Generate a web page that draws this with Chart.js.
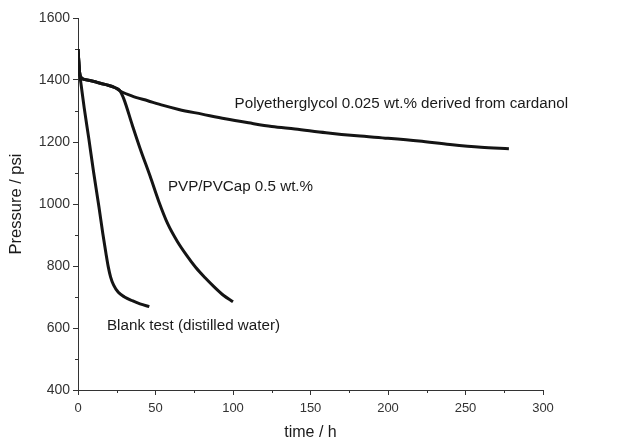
<!DOCTYPE html>
<html>
<head>
<meta charset="utf-8">
<script src="https://cdn.jsdelivr.net/npm/chart.js@4/dist/chart.umd.min.js"></script>
<style>
  html, body { margin: 0; padding: 0; background: #fff; }
  #wrap { width: 622px; height: 443px; }
</style>
</head>
<body>
<div id="wrap"><canvas id="pressureChart"></canvas></div>
<script>
// time (h) and pressure (psi)
const polyTime = [0, 0.5, 1, 2, 6, 12, 18, 24, 28, 35, 45, 55, 65, 80, 95, 110, 125, 140, 160, 180, 200, 220, 240, 260, 278];
const polyPressure = [1500, 1460, 1425, 1408, 1400, 1393, 1385, 1375, 1362, 1348, 1333, 1318, 1305, 1290, 1275, 1262, 1250, 1242, 1230, 1220, 1212, 1203, 1192, 1183, 1178];

const pvpTime = [0, 0.5, 1, 2, 6, 12, 18, 24, 27, 29.5, 35, 40, 46.5, 52, 58, 64, 70, 76, 82, 88, 94, 100];
const pvpPressure = [1500, 1460, 1425, 1408, 1400, 1393, 1385, 1375, 1366, 1340, 1255, 1180, 1090, 1010, 935, 880, 835, 795, 762, 732, 705, 685];

const blankTime = [0, 0.5, 1.2, 2, 4, 7, 10, 13.5, 16, 18, 19.5, 21, 23, 26, 30, 35, 40, 46];
const blankPressure = [1500, 1460, 1415, 1385, 1310, 1210, 1105, 991, 905, 842, 798, 765, 738, 715, 700, 688, 678, 669];

const xTicks = [0, 50, 100, 150, 200, 250, 300];
const yTicks = [400, 600, 800, 1000, 1200, 1400, 1600];
const xMinor = [25, 75, 125, 175, 225, 275];
const yMinor = [500, 700, 900, 1100, 1300, 1500];

// curve labels: text, anchor time, anchor pressure
const labelTexts = ['Polyetherglycol 0.025 wt.% derived from cardanol', 'PVP/PVCap 0.5 wt.%', 'Blank test (distilled water)'];
const labelTimes = [101, 58, 18.7];
const labelPressures = [1323, 1055, 606];

function toPoints(xs, ys) {
    return xs.map((x, i) => ({ x: x, y: ys[i] }));
}

const axisColor = '#333';
const fontFamily = "'Liberation Sans', Arial, sans-serif";

const minorTicks = {
    id: 'minorTicks',
    afterDraw(chart) {
        const ctx = chart.ctx;
        const xs = chart.scales.x;
        const ys = chart.scales.y;
        ctx.save();
        ctx.strokeStyle = axisColor;
        ctx.lineWidth = 1;
        ctx.beginPath();
        xMinor.forEach(v => {
            const px = Math.round(xs.getPixelForValue(v)) + 0.5;
            ctx.moveTo(px, ys.bottom);
            ctx.lineTo(px, ys.bottom + 3);
        });
        yMinor.forEach(v => {
            const py = Math.round(ys.getPixelForValue(v)) + 0.5;
            ctx.moveTo(xs.left, py);
            ctx.lineTo(xs.left - 3, py);
        });
        ctx.stroke();
        ctx.restore();
    }
};

const curveLabels = {
    id: 'curveLabels',
    afterDatasetsDraw(chart) {
        const ctx = chart.ctx;
        ctx.save();
        ctx.fillStyle = '#1a1a1a';
        ctx.font = '15.2px ' + fontFamily;
        ctx.textAlign = 'left';
        ctx.textBaseline = 'middle';
        labelTexts.forEach((t, i) => {
            ctx.fillText(t, chart.scales.x.getPixelForValue(labelTimes[i]), chart.scales.y.getPixelForValue(labelPressures[i]));
        });
        ctx.restore();
    }
};

const lineStyle = {
    borderColor: '#141414',
    borderWidth: 3,
    pointRadius: 0,
    fill: false,
    cubicInterpolationMode: 'monotone'
};

new Chart(document.getElementById('pressureChart').getContext('2d'), {
    type: 'line',
    data: {
        datasets: [
            Object.assign({ label: labelTexts[0], data: toPoints(polyTime, polyPressure) }, lineStyle),
            Object.assign({ label: labelTexts[1], data: toPoints(pvpTime, pvpPressure) }, lineStyle),
            Object.assign({ label: labelTexts[2], data: toPoints(blankTime, blankPressure) }, lineStyle)
        ]
    },
    options: {
        responsive: true,
        maintainAspectRatio: false,
        animation: false,
        layout: { padding: { top: 18, right: 79, left: 0, bottom: 0 } },
        plugins: {
            legend: { display: false },
            tooltip: { enabled: false }
        },
        scales: {
            x: {
                type: 'linear',
                min: 0,
                max: 300,
                afterBuildTicks: scale => { scale.ticks = xTicks.map(v => ({ value: v })); },
                afterFit: scale => { scale.height = 53; },
                border: { display: true, color: axisColor, width: 1 },
                grid: { drawOnChartArea: false, drawTicks: true, tickLength: 5, color: axisColor },
                ticks: {
                    color: '#333', padding: 6,
                    font: { size: 13, family: fontFamily },
                    callback: v => String(v)
                },
                title: {
                    display: true,
                    text: 'time / h',
                    color: '#1a1a1a',
                    font: { size: 16, family: fontFamily },
                    padding: { top: 0, bottom: 1 }
                }
            },
            y: {
                min: 400,
                max: 1600,
                afterBuildTicks: scale => { scale.ticks = yTicks.map(v => ({ value: v })); },
                afterFit: scale => { scale.width = 78; },
                border: { display: true, color: axisColor, width: 1 },
                grid: { drawOnChartArea: false, drawTicks: true, tickLength: 5, color: axisColor },
                ticks: {
                    color: '#333', padding: 3,
                    font: { size: 14, family: fontFamily },
                    callback: v => String(v)
                },
                title: {
                    display: true,
                    text: 'Pressure / psi',
                    color: '#1a1a1a',
                    font: { size: 16.5, family: fontFamily },
                    padding: { top: 7, bottom: 0 }
                }
            }
        }
    },
    plugins: [minorTicks, curveLabels]
});
</script>
</body>
</html>
